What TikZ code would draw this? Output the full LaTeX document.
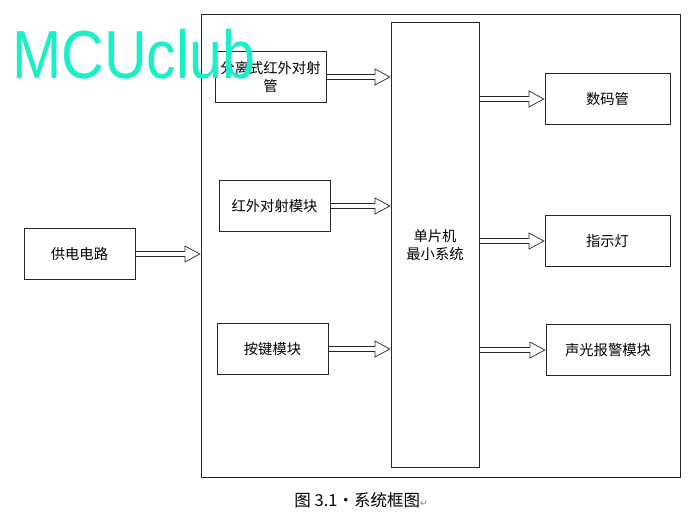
\documentclass[tikz,border=0pt]{standalone}
\usepackage{fontspec}
\setmainfont{Liberation Sans}
\newfontfamily\cjk{Noto Sans CJK SC}
\newfontfamily\symfont{DejaVu Sans}
\usetikzlibrary{arrows.meta}
\definecolor{mcucyan}{RGB}{24,240,200}

\begin{document}
\begin{tikzpicture}[x=1pt, y=-1pt,
    blk/.style={draw=black!85, line width=0.8pt, minimum width=111pt, minimum height=51pt,
      inner sep=0pt, font=\cjk\fontsize{14.3}{18}\selectfont, align=center},
    flow/.style={draw=black!85, line width=5.9pt, shorten >=15pt,
      postaction={draw=white, line width=0.1pt, shorten <=1pt, shorten >=0pt,
        -{Triangle[open, fill=white, color=black!85, line width=0.7pt, length=16pt, width=17pt]}},
      postaction={draw=white, line width=4.5pt, shorten <=0.8pt, shorten >=14.6pt}}]
    \useasboundingbox (0,0) rectangle (689,520);

    \node[draw=black!85, line width=0.8pt, minimum width=479pt, minimum height=463pt, inner sep=0pt] (sys) at (440.5,245.5) {};
    \node[blk] (pwr) at (79.5,254) {供电电路};
    \node[blk] (ir1) at (270.5,77) {分离式红外对射\\管};
    \node[blk] (ir2) at (274.5,206) {红外对射模块};
    \node[blk] (key) at (272.5,349) {按键模块};
    \node[blk, minimum width=88pt, minimum height=445pt] (mcu) at (435,245) {单片机\\最小系统};
    \node[blk, minimum width=125pt] (seg) at (607.5,99) {数码管};
    \node[blk, minimum width=125pt] (led) at (607.5,241) {指示灯};
    \node[blk, minimum width=124pt] (alm) at (608,350) {声光报警模块};

    \draw[flow] (ir1.east) -- (ir1.east -| mcu.west);
    \draw[flow] (ir2.east) -- (ir2.east -| mcu.west);
    \draw[flow] (key.east) -- (key.east -| mcu.west);
    \draw[flow] (mcu.east |- seg.west) -- (seg.west);
    \draw[flow] (mcu.east |- led.west) -- (led.west);
    \draw[flow] (mcu.east |- alm.west) -- (alm.west);
    \draw[flow] (pwr.east) -- (pwr.east -| sys.west);

    \node[font=\cjk\fontsize{16.5}{19}\selectfont] (cap) at (361,500) {图 3.1·系统框图{\symfont\fontsize{9}{9}\selectfont\color{gray}↵}};

    % watermark
    \node[text=mcucyan, font=\fontsize{68}{68}\selectfont, xscale=0.87, anchor=base west, inner sep=0pt] (wm) at (12,78) {MCUclub};
  \end{tikzpicture}
\end{document}
